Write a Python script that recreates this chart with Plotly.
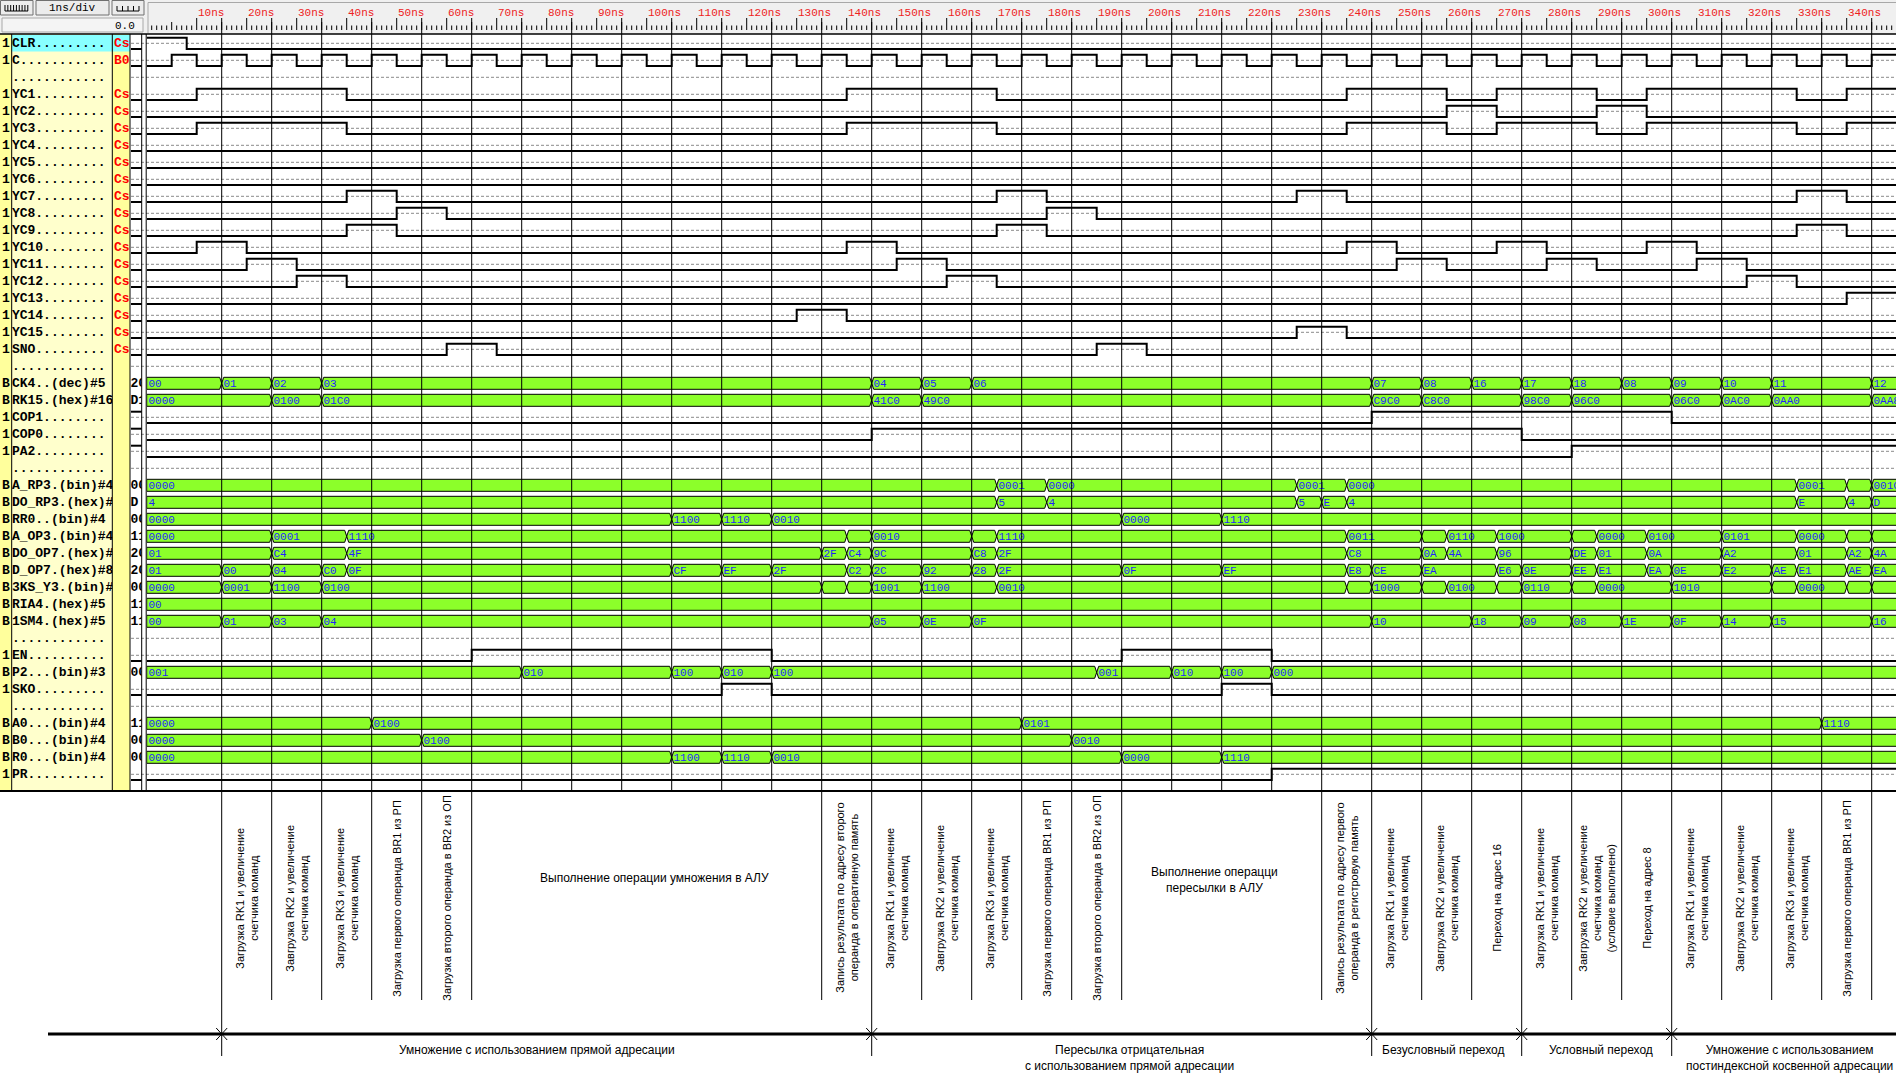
import plotly.graph_objects as go

# ---------------- DATA ----------------
ruler_t = [10, 20, 30, 40, 50, 60, 70, 80, 90, 100, 110, 120, 130, 140, 150, 160, 170,
           180, 190, 200, 210, 220, 230, 240, 250, 260, 270, 280, 290, 300, 310, 320, 330, 340]
ruler_labels = ["10ns", "20ns", "30ns", "40ns", "50ns", "60ns", "70ns", "80ns", "90ns", "100ns",
                "110ns", "120ns", "130ns", "140ns", "150ns", "160ns", "170ns", "180ns", "190ns",
                "200ns", "210ns", "220ns", "230ns", "240ns", "250ns", "260ns", "270ns", "280ns",
                "290ns", "300ns", "310ns", "320ns", "330ns", "340ns"]
grid_t = [15, 25, 35, 45, 55, 65, 75, 85, 95, 105, 115, 125, 135, 145, 155, 165, 175, 185,
          195, 205, 215, 225, 235, 245, 255, 265, 275, 285, 295, 305, 315, 325, 335, 345]

row_names = ["CLR", "C", "", "YC1", "YC2", "YC3", "YC4", "YC5", "YC6", "YC7", "YC8", "YC9",
             "YC10", "YC11", "YC12", "YC13", "YC14", "YC15", "SNO", "",
             "CK4..(dec)#5", "RK15.(hex)#16", "COP1", "COP0", "PA2", "",
             "A_RP3.(bin)#4", "DO_RP3.(hex)#4", "RR0..(bin)#4", "A_OP3.(bin)#4",
             "DO_OP7.(hex)#8", "D_OP7.(hex)#8", "3KS_Y3.(bin)#4", "RIA4.(hex)#5",
             "1SM4.(hex)#5", "", "EN", "P2...(bin)#3", "SKO", "",
             "A0...(bin)#4", "B0...(bin)#4", "R0...(bin)#4", "PR"]
row_types = ["1", "1", "", "1", "1", "1", "1", "1", "1", "1", "1", "1", "1", "1", "1", "1",
             "1", "1", "1", "", "B", "B", "1", "1", "1", "", "B", "B", "B", "B", "B", "B", "B",
             "B", "B", "", "1", "B", "1", "", "B", "B", "B", "1"]
row_codes = ["Cs", "B0", "", "Cs", "Cs", "Cs", "Cs", "Cs", "Cs", "Cs", "Cs", "Cs", "Cs", "Cs",
             "Cs", "Cs", "Cs", "Cs", "Cs"] + [""] * 25

# digital signals: transition times (ns) and levels
clr_t = [0, 8]
clr_v = [1, 0]
c_t = [0, 5, 10, 15, 20, 25, 30, 35, 40, 45, 50, 55, 60, 65, 70, 75, 80, 85, 90, 95, 100, 105,
       110, 115, 120, 125, 130, 135, 140, 145, 150, 155, 160, 165, 170, 175, 180, 185, 190, 195,
       200, 205, 210, 215, 220, 225, 230, 235, 240, 245, 250, 255, 260, 265, 270, 275, 280, 285,
       290, 295, 300, 305, 310, 315, 320, 325, 330, 335, 340, 345]
c_v = [0, 1, 0, 1, 0, 1, 0, 1, 0, 1, 0, 1, 0, 1, 0, 1, 0, 1, 0, 1, 0, 1, 0, 1, 0, 1, 0, 1, 0, 1,
       0, 1, 0, 1, 0, 1, 0, 1, 0, 1, 0, 1, 0, 1, 0, 1, 0, 1, 0, 1, 0, 1, 0, 1, 0, 1, 0, 1, 0, 1,
       0, 1, 0, 1, 0, 1, 0, 1, 0, 1]
yc1_t = [0, 10, 40, 140, 170, 240, 260, 270, 290, 300, 330, 340]
yc1_v = [0, 1, 0, 1, 0, 1, 0, 1, 0, 1, 0, 1]
yc2_t = [0, 260, 270, 290, 300]
yc2_v = [0, 1, 0, 1, 0]
yc3_t = [0, 10, 40, 140, 170, 240, 260, 270, 290, 300, 330, 340]
yc3_v = [0, 1, 0, 1, 0, 1, 0, 1, 0, 1, 0, 1]
yc4_t, yc4_v = [0], [0]
yc5_t, yc5_v = [0], [0]
yc6_t, yc6_v = [0], [0]
yc7_t = [0, 40, 50, 170, 180, 230, 240, 330, 340]
yc7_v = [0, 1, 0, 1, 0, 1, 0, 1, 0]
yc8_t = [0, 50, 60, 180, 190]
yc8_v = [0, 1, 0, 1, 0]
yc9_t = [0, 40, 50, 170, 180, 330, 340]
yc9_v = [0, 1, 0, 1, 0, 1, 0]
yc10_t = [0, 10, 20, 140, 150, 240, 250, 270, 280, 300, 310]
yc10_v = [0, 1, 0, 1, 0, 1, 0, 1, 0, 1, 0]
yc11_t = [0, 20, 30, 150, 160, 250, 260, 280, 290, 310, 320]
yc11_v = [0, 1, 0, 1, 0, 1, 0, 1, 0, 1, 0]
yc12_t = [0, 30, 40, 160, 170, 320, 330]
yc12_v = [0, 1, 0, 1, 0, 1, 0]
yc13_t = [0, 340]
yc13_v = [0, 1]
yc14_t = [0, 130, 140]
yc14_v = [0, 1, 0]
yc15_t = [0, 230, 240]
yc15_v = [0, 1, 0]
sno_t = [0, 60, 70, 190, 200]
sno_v = [0, 1, 0, 1, 0]
cop1_t = [0, 245, 305]
cop1_v = [0, 1, 0]
cop0_t = [0, 145, 275]
cop0_v = [0, 1, 0]
pa2_t = [0, 285]
pa2_v = [0, 1]
en_t = [0, 65, 125, 195, 225]
en_v = [0, 1, 0, 1, 0]
sko_t = [0, 115, 125, 215, 225]
sko_v = [0, 1, 0, 1, 0]
pr_t = [0, 225]
pr_v = [0, 1]

# buses: segment start times (ns) and values ("" = too narrow to be labelled in the picture)
ck4_t = [0, 15, 25, 35, 145, 155, 165, 245, 255, 265, 275, 285, 295, 305, 315, 325, 345]
ck4_v = ["00", "01", "02", "03", "04", "05", "06", "07", "08", "16", "17", "18", "08", "09",
         "10", "11", "12"]
rk15_t = [0, 25, 35, 145, 155, 245, 255, 275, 285, 305, 315, 325, 345]
rk15_v = ["0000", "0100", "01C0", "41C0", "49C0", "C9C0", "C8C0", "98C0", "96C0", "06C0",
          "0AC0", "0AA0", "0AA8"]
arp3_t = [0, 170, 180, 230, 240, 330, 340, 345]
arp3_v = ["0000", "0001", "0000", "0001", "0000", "0001", "", "0010"]
dorp3_t = [0, 170, 180, 230, 235, 240, 330, 340, 345]
dorp3_v = ["4", "5", "4", "5", "E", "4", "E", "4", "D"]
rr0_t = [0, 105, 115, 125, 195, 215]
rr0_v = ["0000", "1100", "1110", "0010", "0000", "1110"]
aop3_t = [0, 25, 40, 140, 145, 165, 170, 240, 255, 260, 270, 285, 290, 300, 315, 330, 340, 345]
aop3_v = ["0000", "0001", "1110", "", "0010", "", "1110", "0011", "", "0110", "1000", "",
          "0000", "0100", "0101", "0000", "", ""]
doop7_t = [0, 25, 40, 135, 140, 145, 165, 170, 240, 255, 260, 270, 285, 290, 300, 315, 330,
           340, 345]
doop7_v = ["01", "C4", "4F", "2F", "C4", "9C", "C8", "2F", "C8", "0A", "4A", "96", "DE", "01",
           "0A", "A2", "01", "A2", "4A"]
dop7_t = [0, 15, 25, 35, 40, 105, 115, 125, 140, 145, 155, 165, 170, 195, 215, 240, 245, 255,
          270, 275, 285, 290, 300, 305, 315, 325, 330, 340, 345]
dop7_v = ["01", "00", "04", "C0", "0F", "CF", "EF", "2F", "C2", "2C", "92", "28", "2F", "0F",
          "EF", "E8", "CE", "EA", "E6", "9E", "EE", "E1", "EA", "0E", "E2", "AE", "E1", "AE", "EA"]
ksy3_t = [0, 15, 25, 35, 135, 140, 145, 155, 170, 240, 245, 255, 260, 270, 275, 285, 290, 305,
          325, 330, 340, 345]
ksy3_v = ["0000", "0001", "1100", "0100", "", "", "1001", "1100", "0010", "", "1000", "", "0100",
          "", "0110", "", "0000", "1010", "", "0000", "", ""]
ria4_t = [0]
ria4_v = ["00"]
sm4_t = [0, 15, 25, 35, 145, 155, 165, 245, 265, 275, 285, 295, 305, 315, 325, 345]
sm4_v = ["00", "01", "03", "04", "05", "0E", "0F", "10", "18", "09", "08", "1E", "0F", "14",
         "15", "16"]
p2_t = [0, 75, 105, 115, 125, 190, 205, 215, 225]
p2_v = ["001", "010", "100", "010", "100", "001", "010", "100", "000"]
a0_t = [0, 45, 175, 335]
a0_v = ["0000", "0100", "0101", "1110"]
b0_t = [0, 55, 185]
b0_v = ["0000", "0100", "0010"]
r0_t = [0, 105, 115, 125, 195, 215]
r0_v = ["0000", "1100", "1110", "0010", "0000", "1110"]

digital = [("CLR", clr_t, clr_v), ("C", c_t, c_v), ("YC1", yc1_t, yc1_v), ("YC2", yc2_t, yc2_v),
           ("YC3", yc3_t, yc3_v), ("YC4", yc4_t, yc4_v), ("YC5", yc5_t, yc5_v),
           ("YC6", yc6_t, yc6_v), ("YC7", yc7_t, yc7_v), ("YC8", yc8_t, yc8_v),
           ("YC9", yc9_t, yc9_v), ("YC10", yc10_t, yc10_v), ("YC11", yc11_t, yc11_v),
           ("YC12", yc12_t, yc12_v), ("YC13", yc13_t, yc13_v), ("YC14", yc14_t, yc14_v),
           ("YC15", yc15_t, yc15_v), ("SNO", sno_t, sno_v), ("COP1", cop1_t, cop1_v),
           ("COP0", cop0_t, cop0_v), ("PA2", pa2_t, pa2_v), ("EN", en_t, en_v),
           ("SKO", sko_t, sko_v), ("PR", pr_t, pr_v)]
digital_cursor = [0, 0, 0, 0, 0, 0, 0, 0, 0, 0, 0, 0, 0, 0, 0, 0, 0, 0, 1, 1, 1, 0, 0, 0]

buses = [("CK4..(dec)#5", ck4_t, ck4_v), ("RK15.(hex)#16", rk15_t, rk15_v),
         ("A_RP3.(bin)#4", arp3_t, arp3_v), ("DO_RP3.(hex)#4", dorp3_t, dorp3_v),
         ("RR0..(bin)#4", rr0_t, rr0_v), ("A_OP3.(bin)#4", aop3_t, aop3_v),
         ("DO_OP7.(hex)#8", doop7_t, doop7_v), ("D_OP7.(hex)#8", dop7_t, dop7_v),
         ("3KS_Y3.(bin)#4", ksy3_t, ksy3_v), ("RIA4.(hex)#5", ria4_t, ria4_v),
         ("1SM4.(hex)#5", sm4_t, sm4_v), ("P2...(bin)#3", p2_t, p2_v),
         ("A0...(bin)#4", a0_t, a0_v), ("B0...(bin)#4", b0_t, b0_v),
         ("R0...(bin)#4", r0_t, r0_v)]
bus_cursor = ["20", "D1", "00", "D", "00", "11", "20", "20", "00", "11", "11", "00", "11", "00", "00"]

# annotation area
step_lines_t = [15, 25, 35, 45, 55, 65, 135, 145, 155, 165, 175, 185, 195, 235, 245, 255, 265,
                275, 285, 295, 305, 315, 325, 335, 345]
phase_lines_t = [15, 145, 245, 275, 305]
step_t = [20, 30, 40, 50, 60, 140, 150, 160, 170, 180, 190, 240, 250, 260, 270, 280, 290, 300,
          310, 320, 330, 340]
step_text = [
    "Загрузка RK1 и увеличение<br>счетчика команд",
    "Завгрузка RK2 и увеличение<br>счетчика команд",
    "Загрузка RK3 и увеличение<br>счетчика команд",
    "Загрузка первого операнда BR1 из РП",
    "Загрузка второго операнда в BR2 из ОП",
    "Запись результата по адресу второго<br>операнда в оперативную память",
    "Загрузка RK1 и увеличение<br>счетчика команд",
    "Завгрузка RK2 и увеличение<br>счетчика команд",
    "Загрузка RK3 и увеличение<br>счетчика команд",
    "Загрузка первого операнда BR1 из РП",
    "Загрузка второго операнда в BR2 из ОП",
    "Запись результата по адресу первого<br>операнда в регистровую память",
    "Загрузка RK1 и увеличение<br>счетчика команд",
    "Завгрузка RK2 и увеличение<br>счетчика команд",
    "Переход на адрес 16",
    "Загрузка RK1 и увеличение<br>счетчика команд",
    "Завгрузка RK2 и увеличение<br>счетчика команд<br>(условие выполнено)",
    "Переход на адрес 8",
    "Загрузка RK1 и увеличение<br>счетчика команд",
    "Завгрузка RK2 и увеличение<br>счетчика команд",
    "Загрузка RK3 и увеличение<br>счетчика команд",
    "Загрузка первого операнда BR1 из РП",
]
exec_t = [101.5, 213.5]
exec_text = ["Выполнение операции умножения в АЛУ", "Выполнение операцци<br>пересылки в АЛУ"]
phase_t = [78, 196.5, 259.4, 290.9, 328.6]
phase_text = ["Умножение с использованием прямой адресации",
              "Пересылка отрицательная<br>с использованием прямой адресации",
              "Безусловный переход", "Условный переход",
              "Умножение с использованием<br>постиндексной косвенной адресации"]

# ---------------- LAYOUT CONSTANTS ----------------
W, H = 1896, 1090
X0_PX = 146.7
NS_PX = 5.0
T_END = (W - X0_PX) / NS_PX
ROW_Y0 = 43.3
ROW_H = 17.0
SIG_TOP, SIG_BOT = 34.0, 791.0
GREEN = "#8cff2a"
BLUE = "#1f1fff"
RED = "#ee2222"
MONO = "Liberation Mono, DejaVu Sans Mono, monospace"
SANS = "Liberation Sans, Arial, sans-serif"
CHEV = 0.4
HI, LO = -5.6, 5.7

def yrow(i):
    return ROW_Y0 + ROW_H * i

shapes, annots = [], []

def line_px(x0, y0, x1, y1, color="black", width=1, dash=None, layer="above"):
    ln = dict(color=color, width=width)
    if dash:
        ln["dash"] = dash
    shapes.append(dict(type="line", xref="paper", yref="y", x0=x0 / W, x1=x1 / W, y0=y0, y1=y1,
                       line=ln, layer=layer))

def rect_px(x0, y0, x1, y1, fill, lc=None, lw=0, layer="below"):
    shapes.append(dict(type="rect", xref="paper", yref="y", x0=x0 / W, x1=x1 / W, y0=y0, y1=y1,
                       fillcolor=fill, line=dict(color=lc or fill, width=lw), layer=layer))

def line_t(t0, y0, t1, y1, color="black", width=1, layer="above"):
    shapes.append(dict(type="line", xref="x", yref="y", x0=t0, x1=t1, y0=y0, y1=y1,
                       line=dict(color=color, width=width), layer=layer))

fig = go.Figure()

# ---------- backgrounds ----------
rect_px(0, 0, W, SIG_TOP, "#f0f0f0")
rect_px(0, SIG_TOP, 11.7, SIG_BOT, "#ffff9c")
rect_px(11.7, SIG_TOP, 112.3, SIG_BOT, "#ffffcc")
rect_px(112.3, SIG_TOP, 130, SIG_BOT, "#ffff9c")
rect_px(11.7, 35, 130, 51.5, "#88ffff")

# buttons / header
rect_px(0.5, 0.5, 33, 15, "#ececec", "#707070", 1)
rect_px(36, 0.5, 109, 15, "#ececec", "#707070", 1)
rect_px(112, 0.5, 144, 15, "#ececec", "#707070", 1)
rect_px(2, 18, 143, 32, "#f4f4f4", "#a8a8a8", 1)
# comb icons
path = "M %f,%f L %f,%f" % (5 / W, 11, 28 / W, 11)
for k in range(9):
    xx = (5 + k * 2.85) / W
    path += " M %f,%f L %f,%f" % (xx, 5, xx, 11)
shapes.append(dict(type="path", xref="paper", yref="y", path=path, line=dict(color="black", width=1)))
path = "M %f,%f L %f,%f" % (117 / W, 11, 139 / W, 11)
for k in range(5):
    xx = (117 + k * 5.5) / W
    path += " M %f,%f L %f,%f" % (xx, 6, xx, 11)
shapes.append(dict(type="path", xref="paper", yref="y", path=path, line=dict(color="black", width=1)))
annots.append(dict(x=72.5 / W, y=8, xref="paper", yref="y", text="1ns/div", showarrow=False,
                   font=dict(family=MONO, size=11, color="black"), xanchor="center", yanchor="middle"))
annots.append(dict(x=137 / W, y=26, xref="paper", yref="y", text="0.0", showarrow=False,
                   font=dict(family=MONO, size=11, color="black"), xanchor="right", yanchor="middle"))

# ruler frame
line_px(148, 2.5, W, 2.5, "#a8a8a8", 1, layer="below")
line_px(148, 2.5, 148, 33, "#a8a8a8", 1, layer="below")

# ruler ticks (1 ns minor, 5 ns medium, 10 ns major)
tx, ty = [], []
for n in range(1, int(T_END) + 1):
    top = 18 if n % 10 == 0 else (22 if n % 5 == 0 else 25.5)
    tx += [n, n, None]
    ty += [top, 30, None]
fig.add_trace(go.Scatter(x=tx, y=ty, mode="lines", line=dict(color="black", width=1),
                         hoverinfo="skip", showlegend=False))
for t, lab in zip(ruler_t, ruler_labels):
    annots.append(dict(x=t, y=12.5, xref="x", yref="y", text=lab, showarrow=False,
                       font=dict(family=MONO, size=11, color=RED), xanchor="left",
                       yanchor="middle", xshift=-1))

# dashed centre lines for non-bus rows
bus_names = [b[0] for b in buses]
for i, nm in enumerate(row_names):
    if nm not in bus_names:
        line_px(131, yrow(i), W, yrow(i), "#8a8a8a", 1, dash="3px,2px", layer="below")

# ---------- buses ----------
for (name, ts, vs), cur in zip(buses, bus_cursor):
    i = row_names.index(name)
    c = yrow(i)
    xs, ys = [], []
    for k, t0 in enumerate(ts):
        last = k == len(ts) - 1
        t1 = T_END + 3 if last else ts[k + 1]
        l = 0 if t0 == 0 else CHEV
        r = 0 if last else CHEV
        xs += [t0, t0 + l, t1 - r, t1, t1 - r, t0 + l, t0, None]
        ys += [c, c - 6, c - 6, c, c + 6, c + 6, c, None]
    fig.add_trace(go.Scatter(x=xs, y=ys, mode="lines", fill="toself", fillcolor=GREEN,
                             line=dict(color="black", width=1), hoverinfo="skip", showlegend=False))
    fig.add_trace(go.Scatter(x=[t + 0.35 for t in ts], y=[c + 0.5] * len(ts), mode="text", text=vs,
                             textposition="middle right",
                             textfont=dict(family=MONO, size=11, color=BLUE),
                             hoverinfo="skip", showlegend=False))
    fig.add_trace(go.Scatter(x=[130.5], y=[c + 0.5], mode="text", text=[cur], xaxis="x3",
                             textposition="middle right",
                             textfont=dict(family=MONO, size=13, color="black", weight="bold"),
                             hoverinfo="skip", showlegend=False))

# ---------- digital signals ----------
for (name, ts, vs), cur in zip(digital, digital_cursor):
    i = row_names.index(name)
    c = yrow(i)
    xs = list(ts) + [T_END + 3]
    ys = [c + (HI if v else LO) for v in vs] + [c + (HI if vs[-1] else LO)]
    fig.add_trace(go.Scatter(x=xs, y=ys, mode="lines", line=dict(color="black", width=2, shape="hv"),
                             hoverinfo="skip", showlegend=False))
    lv = c + (HI if cur else LO)
    line_px(131, lv, 141.7, lv, "black", 2)

# ---------- grid & frame lines ----------
for t in grid_t:
    line_t(t, 18, t, SIG_BOT, "black", 1)
for xx in [11.7, 112.3, 130, 141.7, 146.2]:
    line_px(xx, SIG_TOP, xx, SIG_BOT, "black", 1)
line_px(0, SIG_TOP, W, SIG_TOP, "black", 1.5)
line_px(0, SIG_BOT, W, SIG_BOT, "black", 2)

# ---------- left column texts ----------
disp_names = []
for nm, tp in zip(row_names, row_types):
    if nm == "":
        disp_names.append("." * 12)
    elif tp == "1":
        disp_names.append(nm + "." * max(0, 12 - len(nm)))
    else:
        disp_names.append(nm)
fig.add_trace(go.Scatter(x=[11.9] * len(row_names), y=[yrow(i) + 0.5 for i in range(len(row_names))],
                         mode="text", text=disp_names, textposition="middle right", xaxis="x2",
                         textfont=dict(family=MONO, size=13, color="black", weight="bold"),
                         hoverinfo="skip", showlegend=False))
for i, (tp, cd) in enumerate(zip(row_types, row_codes)):
    if tp:
        annots.append(dict(x=0.5 / W, y=yrow(i) + 0.5, xref="paper", yref="y", text=tp, showarrow=False,
                           font=dict(family=MONO, size=13, color="black", weight="bold"),
                           xanchor="left", yanchor="middle", borderpad=0))
    if cd:
        annots.append(dict(x=112.6 / W, y=yrow(i) + 0.5, xref="paper", yref="y", text=cd, showarrow=False,
                           font=dict(family=MONO, size=13, color="#ff0000", weight="bold"),
                           xanchor="left", yanchor="middle", borderpad=0))

# ---------- bottom annotation area ----------
for t in step_lines_t:
    y1 = 1056 if t in phase_lines_t else 1000
    line_t(t, SIG_BOT, t, y1, "black", 1)
line_px(48, 1034, W, 1034, "black", 3)
for t in phase_lines_t:
    line_t(t - 1.1, 1028, t + 1.1, 1040, "black", 1)
    line_t(t - 1.1, 1040, t + 1.1, 1028, "black", 1)
for t, txt in zip(step_t, step_text):
    annots.append(dict(x=t, y=898, xref="x", yref="y", text=txt, textangle=-90, showarrow=False,
                       font=dict(family=SANS, size=11, color="black"), align="center",
                       xanchor="center", yanchor="middle"))
for t, txt, yy in zip(exec_t, exec_text, [878, 880]):
    annots.append(dict(x=t, y=yy, xref="x", yref="y", text=txt, showarrow=False,
                       font=dict(family=SANS, size=12, color="black"), align="center",
                       xanchor="center", yanchor="middle"))
for t, txt in zip(phase_t, phase_text):
    annots.append(dict(x=t, y=1041, xref="x", yref="y", text=txt, showarrow=False,
                       font=dict(family=SANS, size=12, color="black"), align="center",
                       xanchor="center", yanchor="top"))

fig.update_layout(
    width=W, height=H, margin=dict(l=0, r=0, t=0, b=0, pad=0),
    paper_bgcolor="white", plot_bgcolor="rgba(0,0,0,0)",
    showlegend=False, hovermode=False,
    xaxis=dict(domain=[X0_PX / W, 1], range=[0, T_END], visible=False, fixedrange=True),
    xaxis2=dict(domain=[11.7 / W, 112.3 / W], range=[11.7, 112.3], visible=False, anchor="y",
                fixedrange=True),
    xaxis3=dict(domain=[130.5 / W, 141.5 / W], range=[130.5, 141.5], visible=False, anchor="y",
                fixedrange=True),
    yaxis=dict(domain=[0, 1], range=[H, 0], visible=False, fixedrange=True),
    shapes=shapes, annotations=annots,
)
fig.write_html("out.html")
